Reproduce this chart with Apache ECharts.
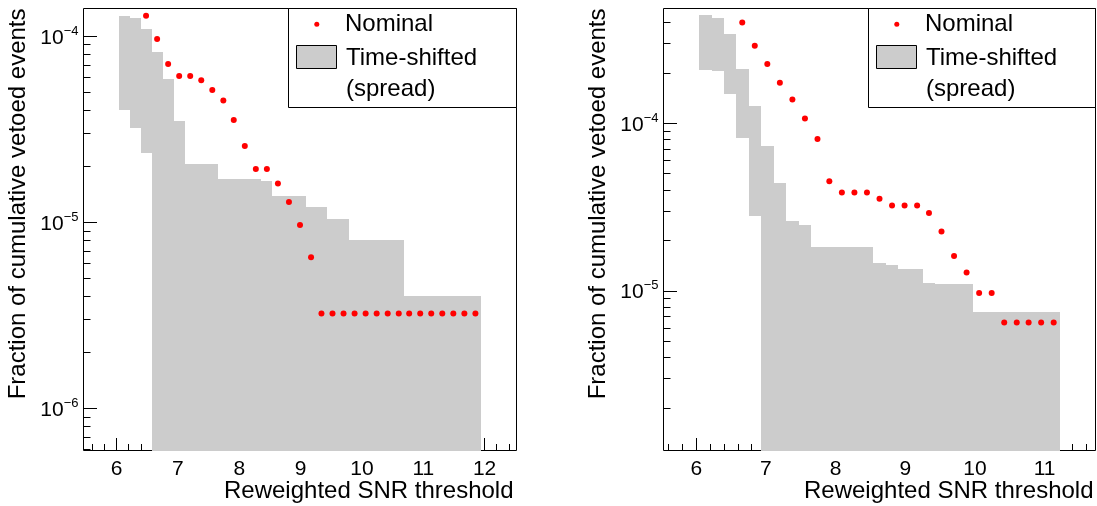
<!DOCTYPE html>
<html><head><meta charset="utf-8">
<script src="https://cdn.jsdelivr.net/npm/echarts@6/dist/echarts.min.js"></script>
<style>html,body{margin:0;padding:0;background:#fff}#c{width:1097px;height:506px}</style>
</head><body><div id="c"></div>
<script>
// ---- data ----
const binEdges = [6.04, 6.22, 6.40, 6.57, 6.75, 6.93, 7.11, 7.29, 7.47, 7.65, 7.82, 8.00, 8.18, 8.36, 8.54, 8.72, 8.90, 9.08, 9.25, 9.43, 9.61, 9.79, 9.97, 10.15, 10.33, 10.51, 10.68, 10.86, 11.04, 11.22, 11.40, 11.58, 11.76, 11.94];

const leftNominalX = [6.48, 6.66, 6.84, 7.02, 7.20, 7.38, 7.56, 7.74, 7.91, 8.09, 8.27, 8.45, 8.63, 8.81, 8.99, 9.17, 9.34, 9.52, 9.70, 9.88, 10.06, 10.24, 10.42, 10.60, 10.77, 10.95, 11.13, 11.31, 11.49, 11.67, 11.85];
const leftNominalY = [1.29e-4, 9.7e-5, 7.1e-5, 6.13e-5, 6.13e-5, 5.81e-5, 5.16e-5, 4.52e-5, 3.56e-5, 2.58e-5, 1.94e-5, 1.94e-5, 1.62e-5, 1.29e-5, 9.7e-6, 6.5e-6, 3.24e-6, 3.24e-6, 3.24e-6, 3.24e-6, 3.24e-6, 3.24e-6, 3.24e-6, 3.24e-6, 3.24e-6, 3.24e-6, 3.24e-6, 3.24e-6, 3.24e-6, 3.24e-6, 3.24e-6];
const leftSpreadHigh = [1.29e-4, 1.26e-4, 1.10e-4, 8.28e-5, 5.88e-5, 3.53e-5, 2.06e-5, 2.06e-5, 2.06e-5, 1.72e-5, 1.72e-5, 1.72e-5, 1.72e-5, 1.68e-5, 1.38e-5, 1.38e-5, 1.38e-5, 1.21e-5, 1.21e-5, 1.04e-5, 1.04e-5, 8.1e-6, 8.1e-6, 8.1e-6, 8.1e-6, 8.1e-6, 4.04e-6, 4.04e-6, 4.04e-6, 4.04e-6, 4.04e-6, 4.04e-6, 4.04e-6];
const leftSpreadLow = [4.01e-5, 3.21e-5, 2.37e-5, 0, 0, 0, 0, 0, 0, 0, 0, 0, 0, 0, 0, 0, 0, 0, 0, 0, 0, 0, 0, 0, 0, 0, 0, 0, 0, 0, 0, 0, 0];

const rightNominalX = [6.66, 6.84, 7.02, 7.20, 7.38, 7.56, 7.74, 7.91, 8.09, 8.27, 8.45, 8.63, 8.81, 8.99, 9.17, 9.34, 9.52, 9.70, 9.88, 10.06, 10.24, 10.42, 10.60, 10.77, 10.95, 11.13];
const rightNominalY = [4.01e-4, 2.91e-4, 2.27e-4, 1.75e-4, 1.39e-4, 1.07e-4, 8.09e-5, 4.52e-5, 3.87e-5, 3.87e-5, 3.87e-5, 3.55e-5, 3.24e-5, 3.24e-5, 3.24e-5, 2.92e-5, 2.27e-5, 1.62e-5, 1.29e-5, 9.73e-6, 9.73e-6, 6.5e-6, 6.5e-6, 6.5e-6, 6.5e-6, 6.5e-6];
const rightSpreadHigh = [4.44e-4, 4.28e-4, 3.41e-4, 2.13e-4, 1.27e-4, 7.35e-5, 4.40e-5, 2.62e-5, 2.47e-5, 1.83e-5, 1.83e-5, 1.83e-5, 1.83e-5, 1.83e-5, 1.47e-5, 1.43e-5, 1.36e-5, 1.36e-5, 1.11e-5, 1.10e-5, 1.10e-5, 1.10e-5, 7.46e-6, 7.46e-6, 7.46e-6, 7.46e-6, 7.46e-6, 7.46e-6, 7.46e-6];
const rightSpreadLow = [2.08e-4, 2.05e-4, 1.50e-4, 8.25e-5, 2.82e-5, 0, 0, 0, 0, 0, 0, 0, 0, 0, 0, 0, 0, 0, 0, 0, 0, 0, 0, 0, 0, 0, 0, 0, 0];

const leftXLabels = [6, 7, 8, 9, 10, 11, 12];
const rightXLabels = [6, 7, 8, 9, 10, 11];
const leftXRange = [5.46, 12.52];
const rightXRange = [5.53, 11.73];
const leftYRange = [5.95e-7, 1.413e-4];
const rightYRange = [1.117e-6, 4.86e-4];

const xTitle = 'Reweighted SNR threshold';
const yTitle = 'Fraction of cumulative vetoed events';
const legendNames = ['Nominal', 'Time-shifted', '(spread)'];

// ---- build ----
const FONT = '"Liberation Sans", Arial, Helvetica, sans-serif';
const chart = echarts.init(document.getElementById('c'), null, {renderer: 'canvas'});

function zip(a, b) { return a.map((v, i) => [v, b[i]]); }
function bandData(high, low) { return high.map((h, k) => [binEdges[k], binEdges[k + 1], h, low[k]]); }
function xTickData(xr, yMin) {
  const out = [];
  for (let i = Math.ceil(xr[0] * 5 - 1e-9); i <= Math.floor(xr[1] * 5 + 1e-9); i++) out.push([i / 5, yMin, i % 5 === 0 ? 1 : 0]);
  return out;
}
function yTickData(yr, xMin) {
  const out = [];
  for (let n = Math.floor(Math.log10(yr[0])); n <= Math.ceil(Math.log10(yr[1])); n++)
    for (let k = 1; k <= 9; k++) {
      const v = k * Math.pow(10, n);
      if (v >= yr[0] && v <= yr[1]) out.push([xMin, v, k === 1 ? 1 : 0]);
    }
  return out;
}
function renderXTick(params, api) {
  const p = api.coord([api.value(0), api.value(1)]);
  const len = api.value(2) ? 12.5 : 6.5;
  const x = Math.round(p[0] - 0.5) + 0.5;
  return {type: 'line', shape: {x1: x, y1: p[1], x2: x, y2: p[1] - len}, style: {stroke: '#000', lineWidth: 1}};
}
function renderYTick(params, api) {
  const p = api.coord([api.value(0), api.value(1)]);
  const len = api.value(2) ? 13.5 : 7;
  const y = Math.round(p[1] - 0.5) + 0.5;
  return {type: 'line', shape: {x1: p[0], y1: y, x2: p[0] + len, y2: y}, style: {stroke: '#000', lineWidth: 1}};
}
function renderBand(params, api) {
  const cs = params.coordSys;
  const bottom = cs.y + cs.height + 0.5;
  const pa = api.coord([api.value(0), api.value(2)]);
  const pb = api.coord([api.value(1), api.value(2)]);
  const lo = api.value(3);
  const yLow = lo > 0 ? api.coord([api.value(0), lo])[1] : bottom;
  const x0 = Math.round(pa[0]), x1 = Math.round(pb[0]);
  const y0 = Math.round(pa[1]), y1 = Math.round(yLow);
  return {type: 'rect', shape: {x: x0, y: y0, width: x1 - x0, height: y1 - y0}, style: {fill: '#cccccc'}};
}

function xAxis(idx, range, labels, gap) {
  return {
    type: 'value', gridIndex: idx, min: range[0], max: range[1],
    axisLine: {show: false}, axisTick: {show: false}, splitLine: {show: false},
    axisLabel: {customValues: labels, fontFamily: FONT, fontSize: 21, color: '#000', margin: 8},
    name: xTitle, nameLocation: 'end', nameGap: gap, nameMoveOverlap: false,
    nameTextStyle: {fontFamily: FONT, fontSize: 24, color: '#000', align: 'right', verticalAlign: 'top', padding: [29, 0, 0, 0]}
  };
}
function yAxis(idx, range) {
  return {
    type: 'log', logBase: 10, gridIndex: idx, min: range[0], max: range[1],
    axisLine: {show: false}, axisTick: {show: false}, splitLine: {show: false}, minorTick: {show: false},
    axisLabel: {
      showMinLabel: false, showMaxLabel: false, margin: 5,
      formatter: v => '{b|10}{s|\u2212' + Math.abs(Math.round(Math.log10(v))) + '}',
      rich: {
        b: {fontFamily: FONT, fontSize: 21, color: '#000', verticalAlign: 'bottom', lineHeight: 24},
        s: {fontFamily: FONT, fontSize: 13, color: '#000', verticalAlign: 'top', lineHeight: 14}
      }
    }
  };
}
function legend(x0, w) {
  return [
    {type: 'rect', shape: {x: x0, y: 8.5, width: w, height: 99}, style: {fill: '#fff', stroke: '#000', lineWidth: 1}, z: 10},
    {type: 'circle', shape: {cx: x0 + 28.3, cy: 24.3, r: 2.5}, style: {fill: '#ff0000'}, z: 11},
    {type: 'rect', shape: {x: x0 + 8, y: 45.5, width: 40, height: 23}, style: {fill: '#cccccc', stroke: '#000', lineWidth: 1}, z: 11},
    {type: 'text', x: x0 + 56.5, y: 24, z: 11, style: {text: legendNames[0], font: '24px ' + FONT, fill: '#000', align: 'left', verticalAlign: 'middle', textAlign: 'left', textVerticalAlign: 'middle'}},
    {type: 'text', x: x0 + 57.5, y: 58, z: 11, style: {text: legendNames[1], font: '24px ' + FONT, fill: '#000', align: 'left', verticalAlign: 'middle', textAlign: 'left', textVerticalAlign: 'middle'}},
    {type: 'text', x: x0 + 57.5, y: 89, z: 11, style: {text: legendNames[2], font: '24px ' + FONT, fill: '#000', align: 'left', verticalAlign: 'middle', textAlign: 'left', textVerticalAlign: 'middle'}}
  ];
}
function yTitleText(x) {
  return {type: 'text', x: x, y: 8.5, rotation: Math.PI / 2, z: 11,
    style: {text: yTitle, font: '24px ' + FONT, fill: '#000', align: 'right', verticalAlign: 'middle', textAlign: 'right', textVerticalAlign: 'middle'}};
}

const option = {
  animation: false,
  backgroundColor: '#fff',
  grid: [
    {left: 83.5, top: 8.5, width: 433, height: 442, show: true, borderColor: '#000', borderWidth: 1, backgroundColor: 'transparent', containLabel: false, outerBoundsMode: 'none'},
    {left: 663.5, top: 8.5, width: 432, height: 442, show: true, borderColor: '#000', borderWidth: 1, backgroundColor: 'transparent', containLabel: false, outerBoundsMode: 'none'}
  ],
  xAxis: [xAxis(0, leftXRange, leftXLabels, -3), xAxis(1, rightXRange, rightXLabels, -2)],
  yAxis: [yAxis(0, leftYRange), yAxis(1, rightYRange)],
  series: [
    {type: 'custom', name: 'xticksL', xAxisIndex: 0, yAxisIndex: 0, z: 1, silent: true, data: xTickData(leftXRange, leftYRange[0]), encode: {x: 0, y: 1}, dimensions: ['x', 'y', 'm'], renderItem: renderXTick},
    {type: 'custom', name: 'yticksL', xAxisIndex: 0, yAxisIndex: 0, z: 1, silent: true, data: yTickData(leftYRange, leftXRange[0]), encode: {x: 0, y: 1}, dimensions: ['x', 'y', 'm'], renderItem: renderYTick},
    {type: 'custom', name: 'xticksR', xAxisIndex: 1, yAxisIndex: 1, z: 1, silent: true, data: xTickData(rightXRange, rightYRange[0]), encode: {x: 0, y: 1}, dimensions: ['x', 'y', 'm'], renderItem: renderXTick},
    {type: 'custom', name: 'yticksR', xAxisIndex: 1, yAxisIndex: 1, z: 1, silent: true, data: yTickData(rightYRange, rightXRange[0]), encode: {x: 0, y: 1}, dimensions: ['x', 'y', 'm'], renderItem: renderYTick},
    {type: 'custom', name: 'Time-shifted (spread)', xAxisIndex: 0, yAxisIndex: 0, z: 3, data: bandData(leftSpreadHigh, leftSpreadLow), dimensions: ['x0', 'x1', 'hi', 'lo'], encode: {x: [0, 1], y: [2]}, renderItem: renderBand},
    {type: 'custom', name: 'Time-shifted (spread) R', xAxisIndex: 1, yAxisIndex: 1, z: 3, data: bandData(rightSpreadHigh, rightSpreadLow), dimensions: ['x0', 'x1', 'hi', 'lo'], encode: {x: [0, 1], y: [2]}, renderItem: renderBand},
    {type: 'scatter', name: 'Nominal', xAxisIndex: 0, yAxisIndex: 0, z: 4, symbol: 'circle', symbolSize: 6, itemStyle: {color: '#ff0000', opacity: 1}, data: zip(leftNominalX, leftNominalY)},
    {type: 'scatter', name: 'Nominal R', xAxisIndex: 1, yAxisIndex: 1, z: 4, symbol: 'circle', symbolSize: 6, itemStyle: {color: '#ff0000', opacity: 1}, data: zip(rightNominalX, rightNominalY)}
  ],
  graphic: [yTitleText(18), yTitleText(598)].concat(legend(288.5, 228), legend(868.5, 227))
};
chart.setOption(option);
</script></body></html>
